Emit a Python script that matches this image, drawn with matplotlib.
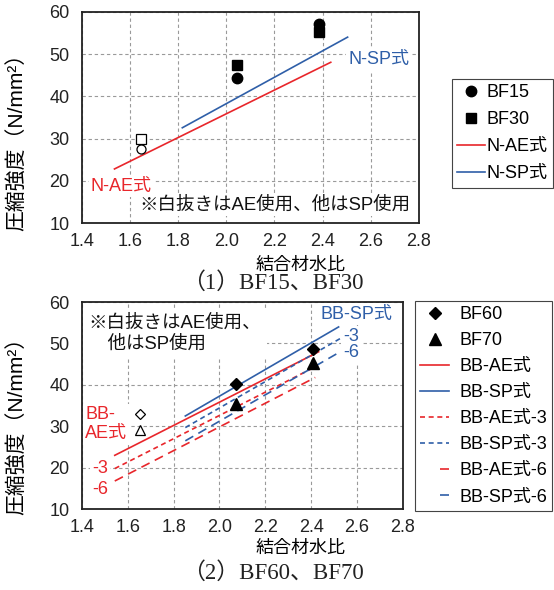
import matplotlib
matplotlib.use("Agg")
import matplotlib.pyplot as plt
from matplotlib.lines import Line2D

plt.rcParams["font.family"] = ["Liberation Sans", "Noto Sans CJK JP"]

RED = "#e8262b"
BLUE = "#2f5fa8"
FS = 13
FS_NOTE = 13.3

# (1) BF15, BF30 : 結合材水比 と 圧縮強度
wb_top = [1.645, 2.045, 2.385]
bf15 = [27.5, 44.3, 57.2]
bf30 = [29.8, 47.3, 55.3]
n_ae_x = [1.535, 2.434]
n_ae_y = [22.8, 48.05]
n_sp_x = [1.817, 2.504]
n_sp_y = [32.55, 54.0]

# (2) BF60, BF70
wb_bot = [1.655, 2.07, 2.41]
bf60 = [32.9, 40.2, 48.6]
bf70 = [29.1, 35.3, 45.3]
bb_ae_x = [1.543, 2.433]
bb_ae_y = [23.0, 48.0]
bb_sp_x = [1.851, 2.52]
bb_sp_y = [32.5, 54.0]
bb_ae3_x = [1.543, 2.43]
bb_ae3_y = [19.8, 44.7]
bb_sp3_x = [1.851, 2.527]
bb_sp3_y = [29.7, 51.2]
bb_ae6_x = [1.543, 2.418]
bb_ae6_y = [16.8, 41.8]
bb_sp6_x = [1.851, 2.527]
bb_sp6_y = [26.5, 48.0]

x_ticks = [1.4, 1.6, 1.8, 2.0, 2.2, 2.4, 2.6, 2.8]
y_ticks = [10, 20, 30, 40, 50, 60]

fig = plt.figure(figsize=(5.54, 5.90), dpi=100)
ax1 = fig.add_axes([0.148, 0.622, 0.608, 0.358])
ax2 = fig.add_axes([0.148, 0.137, 0.579, 0.351])

white = dict(facecolor="white", edgecolor="none", pad=1.5)
short_dash = (0, (3, 2.2))
long_dash = (0, (5.5, 3.5))


def setup(ax):
    ax.set_xlim(1.4, 2.8)
    ax.set_ylim(10, 60)
    ax.set_xticks(x_ticks)
    ax.set_yticks(y_ticks)
    ax.set_xticklabels([f"{v:.1f}" for v in x_ticks])
    ax.tick_params(length=0, labelsize=FS, colors="#222222")
    ax.tick_params(axis="x", pad=7)
    ax.tick_params(axis="y", pad=9)
    ax.grid(True, linestyle=(0, (3, 2.5)), color="#9a9a9a", linewidth=0.8)
    for s in ax.spines.values():
        s.set_linewidth(1.3)
        s.set_color("#222222")


setup(ax1)
setup(ax2)

# 上段
ax1.plot(n_ae_x, n_ae_y, color=RED, lw=1.2, zorder=3)
ax1.plot(n_sp_x, n_sp_y, color=BLUE, lw=1.2, zorder=3)
ax1.plot(wb_top[1:], bf15[1:], "o", color="black", ms=7.5, ls="none", zorder=4)
ax1.plot(wb_top[1:], bf30[1:], "s", color="black", ms=7.5, ls="none", zorder=4)
ax1.plot(wb_top[:1], bf15[:1], "o", mfc="white", mec="black", mew=0.9, ms=6.5, zorder=4)
ax1.plot(wb_top[:1], bf30[:1], "s", mfc="white", mec="black", mew=0.9, ms=6.5, zorder=4)
ax1.text(2.506, 48.6, "N-SP式", color=BLUE, fontsize=FS, va="center", bbox=white, zorder=5)
ax1.text(1.437, 18.7, "N-AE式", color=RED, fontsize=FS, va="center", bbox=white, zorder=5)
ax1.text(1.639, 14.2, "※白抜きはAE使用、他はSP使用", color="#111111", fontsize=FS_NOTE,
         va="center", bbox=white, zorder=5)

h1 = [
    Line2D([], [], marker="o", color="black", ls="none", ms=7.5),
    Line2D([], [], marker="s", color="black", ls="none", ms=7),
    Line2D([], [], color=RED, lw=1.2),
    Line2D([], [], color=BLUE, lw=1.2),
]
leg1 = ax1.legend(h1, ["BF15", "BF30", "N-AE式", "N-SP式"], loc="upper left",
                  bbox_to_anchor=(0.816, 0.866), bbox_transform=fig.transFigure,
                  borderaxespad=0, fancybox=False, fontsize=FS, handlelength=1.5,
                  handletextpad=0.1, labelspacing=0.55, borderpad=0.3, framealpha=1)
leg1.get_frame().set_edgecolor("#444444")
leg1.get_frame().set_linewidth(0.8)

# 下段
ax2.plot(bb_ae_x, bb_ae_y, color=RED, lw=1.2, zorder=3)
ax2.plot(bb_sp_x, bb_sp_y, color=BLUE, lw=1.2, zorder=3)
ax2.plot(bb_ae3_x, bb_ae3_y, color=RED, lw=1.2, ls=short_dash, zorder=3)
ax2.plot(bb_sp3_x, bb_sp3_y, color=BLUE, lw=1.2, ls=short_dash, zorder=3)
ax2.plot(bb_ae6_x, bb_ae6_y, color=RED, lw=1.2, ls=long_dash, zorder=3)
ax2.plot(bb_sp6_x, bb_sp6_y, color=BLUE, lw=1.2, ls=long_dash, zorder=3)
ax2.plot(wb_bot[1:], bf60[1:], "D", color="black", ms=6.5, ls="none", zorder=4)
ax2.plot(wb_bot[1:], bf70[1:], "^", color="black", ms=8, ls="none", zorder=4)
ax2.plot(wb_bot[:1], bf60[:1], "D", mfc="white", mec="black", mew=0.9, ms=5, zorder=4)
ax2.plot(wb_bot[:1], bf70[:1], "^", mfc="white", mec="black", mew=0.9, ms=6.5, zorder=4)

ax2.text(2.44, 57.1, "BB-SP式", color=BLUE, fontsize=FS, va="center", bbox=white, zorder=5)
ax2.text(2.542, 51.6, "-3", color=BLUE, fontsize=FS, va="center", bbox=white, zorder=5)
ax2.text(2.542, 47.8, "-6", color=BLUE, fontsize=FS, va="center", bbox=white, zorder=5)
ax2.text(1.415, 30.5, "BB-\nAE式", color=RED, fontsize=FS, va="center",
         linespacing=1.15, bbox=white, zorder=5)
ax2.text(1.444, 19.8, "-3", color=RED, fontsize=FS, va="center", bbox=white, zorder=5)
ax2.text(1.444, 14.75, "-6", color=RED, fontsize=FS, va="center", bbox=white, zorder=5)
ax2.text(1.429, 52.35, "※白抜きはAE使用、\n\u3000他はSP使用", color="#111111", fontsize=FS_NOTE,
         va="center", linespacing=1.3, bbox=dict(facecolor="white", edgecolor="none", pad=4),
         zorder=5)

h2 = [
    Line2D([], [], marker="D", color="black", ls="none", ms=6.5),
    Line2D([], [], marker="^", color="black", ls="none", ms=8),
    Line2D([], [], color=RED, lw=1.2),
    Line2D([], [], color=BLUE, lw=1.2),
    Line2D([], [], color=RED, lw=1.2, ls=short_dash),
    Line2D([], [], color=BLUE, lw=1.2, ls=short_dash),
    Line2D([], [], color=RED, lw=1.2, ls=(5.5, (5.5, 12))),
    Line2D([], [], color=BLUE, lw=1.2, ls=(5.5, (5.5, 12))),
]
labels2 = ["BF60", "BF70", "BB-AE式", "BB-SP式", "BB-AE式-3", "BB-SP式-3",
           "BB-AE式-6", "BB-SP式-6"]
leg2 = ax2.legend(h2, labels2, loc="upper left",
                  bbox_to_anchor=(0.749, 0.490), bbox_transform=fig.transFigure,
                  borderaxespad=0, fancybox=False, fontsize=FS, handlelength=1.6,
                  handletextpad=0.55, labelspacing=0.5, borderpad=0.3, framealpha=1)
leg2.get_frame().set_edgecolor("#444444")
leg2.get_frame().set_linewidth(0.8)

# 軸ラベル・キャプション
ylab = "圧縮強度（N/mm²）"
fig.text(0.031, 1 - 137 / 590, ylab, rotation=90, ha="center", va="center", fontsize=15)
fig.text(0.031, 1 - 421 / 590, ylab, rotation=90, ha="center", va="center", fontsize=15)
fig.text(301 / 554, 1 - 265 / 590, "結合材水比", ha="center", va="center", fontsize=13)
fig.text(301 / 554, 1 - 548 / 590, "結合材水比", ha="center", va="center", fontsize=13)
cap_font = ["Liberation Serif", "Noto Sans CJK JP"]
fig.text(273 / 554, 1 - 283 / 590, "（1）BF15、BF30", ha="center", va="center",
         fontsize=16.5, family=cap_font, color="#222222")
fig.text(273 / 554, 1 - 573 / 590, "（2）BF60、BF70", ha="center", va="center",
         fontsize=16.5, family=cap_font, color="#222222")

fig.savefig("out.png", dpi=100)
